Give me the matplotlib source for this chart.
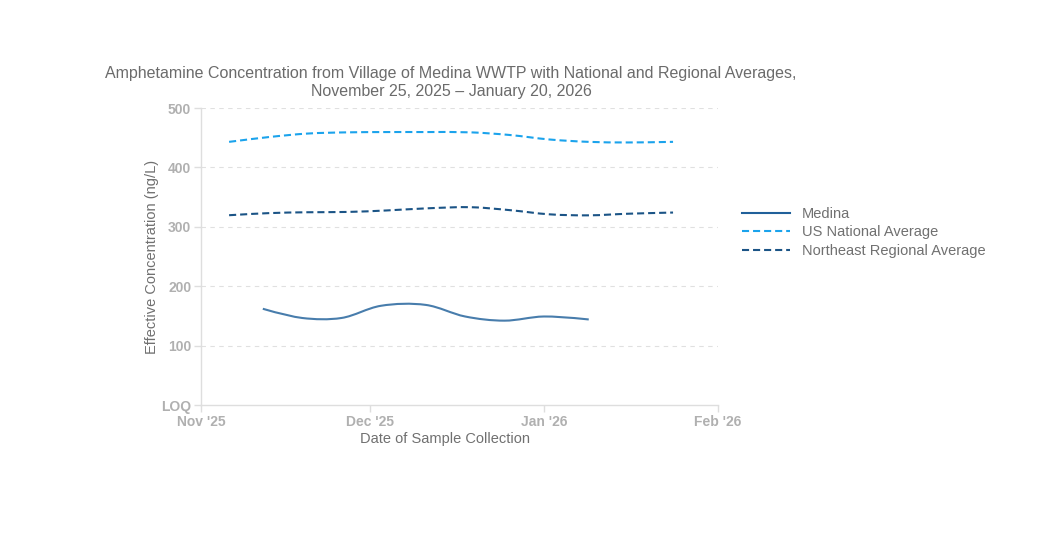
import datetime as dt
import numpy as np
import matplotlib
matplotlib.use("Agg")
import matplotlib.pyplot as plt
import matplotlib.dates as mdates
from matplotlib.path import Path
from matplotlib.patches import PathPatch
from matplotlib.lines import Line2D

plt.rcParams['font.family'] = ['Liberation Sans', 'DejaVu Sans']

D = dt.date
medina_dates = [D(2025, 11, 12), D(2025, 11, 19), D(2025, 11, 26), D(2025, 12, 3), D(2025, 12, 11),
                D(2025, 12, 18), D(2025, 12, 25), D(2026, 1, 1), D(2026, 1, 9)]
medina_vals = [162, 146.5, 146.5, 167, 168.5, 149, 142, 149, 144]

avg_dates = [D(2025, 11, 6), D(2025, 11, 13), D(2025, 11, 20), D(2025, 11, 27), D(2025, 12, 4),
             D(2025, 12, 11), D(2025, 12, 19), D(2025, 12, 26), D(2026, 1, 2), D(2026, 1, 9),
             D(2026, 1, 16), D(2026, 1, 24)]
national_vals = [443, 451, 457, 459, 459.5, 459.5, 459, 454.5, 447, 443, 442, 443]
northeast_vals = [319.5, 323, 324.5, 325, 327.5, 331, 333, 328, 321, 319.3, 322, 324]

series_names = ["Medina", "US National Average", "Northeast Regional Average"]
colors = ["#20609a", "#1ba3ec", "#1b5486"]
line_alpha = [0.82, 1.0, 1.0]

y_ticks = [0, 100, 200, 300, 400, 500]
y_tick_labels = ["LOQ", "100", "200", "300", "400", "500"]
x_ticks = [D(2025, 11, 1), D(2025, 12, 1), D(2026, 1, 1), D(2026, 2, 1)]
x_tick_labels = ["Nov '25", "Dec '25", "Jan '26", "Feb '26"]

title = ("Amphetamine Concentration from Village of Medina WWTP with National and Regional Averages,\n"
         "November 25, 2025 \u2013 January 20, 2026")

W, H = 1043, 544
fig = plt.figure(figsize=(W / 100, H / 100), dpi=100)
ax = fig.add_axes([201 / W, 1 - 405 / H, (718 - 201) / W, (405 - 108) / H])

XS, YS = 5.62, 0.5935  # approx px per day / per unit (for spline shape)


def tangent(p0, p1, p2, s=1.0):
    d1 = p0 - p1
    d2 = p2 - p1
    d1a = np.hypot(*d1) ** 0.5
    d2a = np.hypot(*d2) ** 0.5
    num = (d2a * d2a * d1 - d1a * d1a * d2) * s
    den1 = 3 * d2a * (d1a + d2a)
    den2 = 3 * d1a * (d1a + d2a)
    return p1 + num / den1, p1 - num / den2


def spline_path(dates, vals):
    x = mdates.date2num(dates)
    pts = np.column_stack([x * XS, np.asarray(vals, float) * YS])
    n = len(pts)
    tans = [tangent(pts[i - 1], pts[i], pts[i + 1]) for i in range(1, n - 1)]
    verts = [pts[0]]
    codes = [Path.MOVETO]
    verts += [tans[0][0], pts[1]]
    codes += [Path.CURVE3, Path.CURVE3]
    for i in range(2, n - 1):
        verts += [tans[i - 2][1], tans[i - 1][0], pts[i]]
        codes += [Path.CURVE4] * 3
    verts += [tans[n - 3][1], pts[n - 1]]
    codes += [Path.CURVE3, Path.CURVE3]
    v = np.array(verts)
    v[:, 0] /= XS
    v[:, 1] /= YS
    return Path(v, codes)


dash = (0, (3.4, 1.9))
styles = [dict(lw=1.5, ls='-'), dict(lw=1.5, ls=dash), dict(lw=1.5, ls=dash)]
data = [(medina_dates, medina_vals), (avg_dates, national_vals), (avg_dates, northeast_vals)]
for (dts, vals), c, a, st in zip(data, colors, line_alpha, styles):
    p = spline_path(dts, vals)
    ax.add_patch(PathPatch(p, facecolor='none', edgecolor=c, alpha=a, lw=st['lw'], ls=st['ls'],
                           capstyle='butt', joinstyle='round', zorder=3))

ax.set_xlim(mdates.date2num(D(2025, 11, 1)), mdates.date2num(D(2026, 2, 1)))
ax.set_ylim(0, 500)
ax.set_xticks(mdates.date2num(x_ticks))
ax.set_xticklabels(x_tick_labels)
ax.set_yticks(y_ticks)
ax.set_yticklabels(y_tick_labels)

for sp in ['top', 'right']:
    ax.spines[sp].set_visible(False)
for sp in ['left', 'bottom']:
    ax.spines[sp].set_color('#dedede')
    ax.spines[sp].set_linewidth(1.0)
ax.tick_params(axis='both', colors='#dedede', length=5, width=1.0,
               labelcolor='#b0b0b0', labelsize=10, pad=2)
for lab in ax.get_xticklabels() + ax.get_yticklabels():
    lab.set_fontweight('bold')

for yv in y_ticks[1:]:
    ax.axhline(yv, color='#e0e0e0', lw=0.8, ls=(0, (4, 4)), zorder=1)

fig.text(451 / W, 1 - 82.5 / H, title, ha='center', va='center', fontsize=11.5,
         color='#6b6b6b', linespacing=1.25)
fig.text(445.5 / W, 1 - 439 / H, "Date of Sample Collection", ha='center', va='center',
         fontsize=10.5, color='#707070')
fig.text(152 / W, 1 - 257 / H, "Effective Concentration (ng/L)", ha='center', va='center',
         rotation=90, fontsize=10.5, color='#707070')

handles = [Line2D([], [], color=c, lw=st['lw'], ls=st['ls']) for c, st in zip(colors, styles)]
leg = fig.legend(handles, series_names, loc='upper left', bbox_to_anchor=(742 / W, 1 - 207 / H),
                 frameon=False, fontsize=10.5, handlelength=3.3, handletextpad=0.8,
                 labelspacing=0.3, borderpad=0, borderaxespad=0)
for t in leg.get_texts():
    t.set_color('#707070')

fig.savefig("out.png", dpi=100)
